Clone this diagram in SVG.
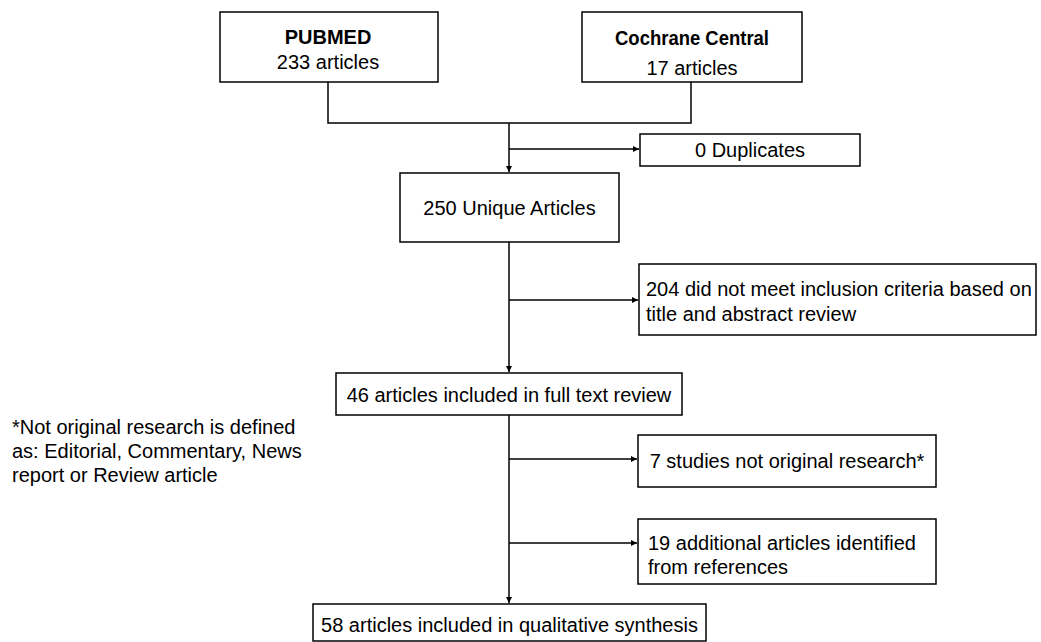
<svg xmlns="http://www.w3.org/2000/svg" width="1041" height="642" viewBox="0 0 1041 642">
<defs>
<marker id="arr" markerUnits="userSpaceOnUse" markerWidth="8" markerHeight="8" refX="6" refY="3" orient="auto">
<path d="M0,0 L6,3 L0,6 z" fill="#000"/>
</marker>
<style>
.box{fill:#fff;stroke:#000;stroke-width:1.5}
.t{font-family:"Liberation Sans",Arial,sans-serif;font-size:20px;fill:#000}
.b{font-weight:bold}
.c{text-anchor:middle}
.ln{fill:none;stroke:#000;stroke-width:1.5}
</style>
</defs>
<rect width="1041" height="642" fill="#fff"/>
<g id="connectors">
<path class="ln" d="M328,82 V123 H691 V82"/>
<path class="ln" d="M509,123 V172" marker-end="url(#arr)"/>
<path class="ln" d="M509,149 H639" marker-end="url(#arr)"/>
<path class="ln" d="M509,242 V372" marker-end="url(#arr)"/>
<path class="ln" d="M509,300 H638" marker-end="url(#arr)"/>
<path class="ln" d="M509,415 V603" marker-end="url(#arr)"/>
<path class="ln" d="M509,459 H637" marker-end="url(#arr)"/>
<path class="ln" d="M509,543 H637" marker-end="url(#arr)"/>
</g>
<g id="pubmed">
<rect class="box" x="220" y="12" width="218" height="70"/>
<text class="t b c" x="328" y="44">PUBMED</text>
<text class="t c" x="328" y="69">233 articles</text>
</g>
<g id="cochrane">
<rect class="box" x="582" y="12" width="220" height="70"/>
<text class="t b c" x="692" y="45" textLength="154" lengthAdjust="spacingAndGlyphs">Cochrane Central</text>
<text class="t c" x="692" y="75">17 articles</text>
</g>
<g id="duplicates">
<rect class="box" x="640" y="134" width="220" height="32"/>
<text class="t c" x="750" y="157">0 Duplicates</text>
</g>
<g id="unique">
<rect class="box" x="400" y="173" width="219" height="69"/>
<text class="t c" x="509.5" y="215">250 Unique Articles</text>
</g>
<g id="excluded1">
<rect class="box" x="639" y="264" width="397" height="71"/>
<text class="t" x="646" y="296">204 did not meet inclusion criteria based on</text>
<text class="t" x="646" y="321">title and abstract review</text>
</g>
<g id="fulltext">
<rect class="box" x="336" y="373" width="346" height="42"/>
<text class="t c" x="509" y="402">46 articles included in full text review</text>
</g>
<g id="excluded2">
<rect class="box" x="638" y="435" width="298" height="52"/>
<text class="t c" x="787" y="468">7 studies not original research*</text>
</g>
<g id="added">
<rect class="box" x="638" y="519" width="298" height="65"/>
<text class="t" x="648" y="550">19 additional articles identified</text>
<text class="t" x="648" y="574">from references</text>
</g>
<g id="final">
<rect class="box" x="313" y="604" width="393" height="37"/>
<text class="t c" x="509.5" y="632">58 articles included in qualitative synthesis</text>
</g>
<g id="footnote">
<text class="t" x="12" y="434">*Not original research is defined</text>
<text class="t" x="12" y="458">as: Editorial, Commentary, News</text>
<text class="t" x="12" y="482">report or Review article</text>
</g>
</svg>
